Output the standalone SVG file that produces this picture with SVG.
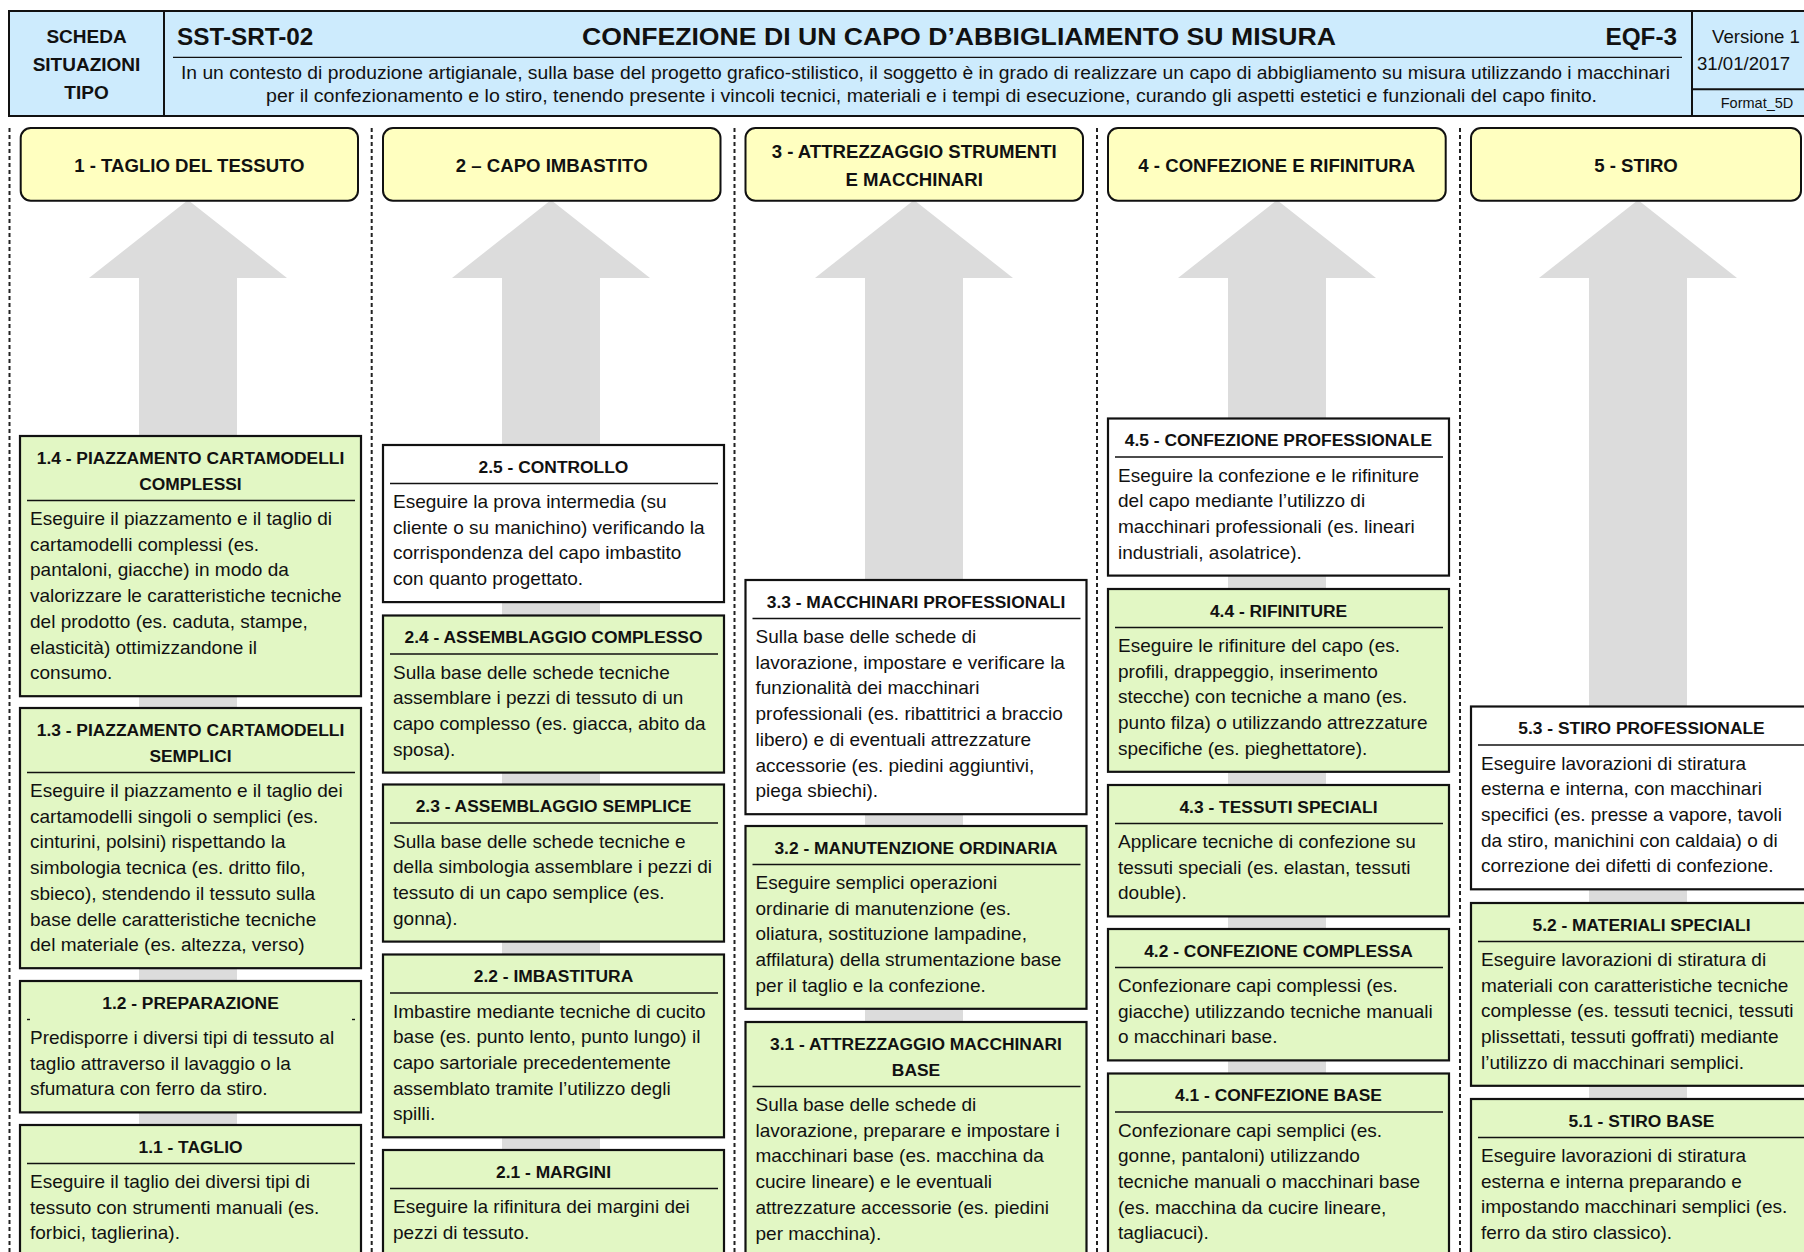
<svg xmlns="http://www.w3.org/2000/svg" width="1804" height="1252" viewBox="0 0 1804 1252">
<style>
.hdr{fill:#cdebfd;stroke:#111;stroke-width:2}
.hl{stroke:#111;stroke-width:2;fill:none}
.thin{stroke:#111;stroke-width:1.3;fill:none}
.yb{fill:#ffffc0;stroke:#111;stroke-width:2}
.g{fill:#e2f7c4;stroke:#111;stroke-width:2.2}
.w{fill:#ffffff;stroke:#111;stroke-width:2.2}
.sep{stroke:#111;stroke-width:1.4}
.arr{fill:#dcdcdc}
.dash{stroke:#222;stroke-width:2;stroke-dasharray:4 3;fill:none}
text{font-family:"Liberation Sans",Arial,sans-serif;fill:#111}
.hb{font-weight:bold;font-size:19px;text-anchor:middle}
.big{font-weight:bold;font-size:24.3px}
.desc{font-size:17.5px}
.ver{font-size:18.6px}
.fmt{font-size:14.5px;text-anchor:middle}
.ct{font-weight:bold;font-size:18.6px;text-anchor:middle}
.t{font-weight:bold;font-size:17.4px;text-anchor:middle}
.b{font-size:19px}
</style>

<g id="header">
<rect class="hdr" x="9" y="11" width="1815" height="105"/>
<line class="hl" x1="164" y1="11" x2="164" y2="116"/>
<line class="hl" x1="1692" y1="11" x2="1692" y2="116"/>
<line class="hl" x1="1692" y1="89.3" x2="1810" y2="89.3"/>
<line class="thin" x1="173" y1="57.3" x2="1682" y2="57.3"/>
<text class="hb" x="86.5" y="42.5">SCHEDA</text>
<text class="hb" x="86.5" y="70.5">SITUAZIONI</text>
<text class="hb" x="86.5" y="98.5">TIPO</text>
<text class="big" x="177" y="44.5">SST-SRT-02</text>
<text class="big" x="582" y="44.5" textLength="754" lengthAdjust="spacingAndGlyphs">CONFEZIONE DI UN CAPO D’ABBIGLIAMENTO SU MISURA</text>
<text class="big" x="1677" y="44.5" text-anchor="end">EQF-3</text>
<text class="desc" x="181" y="78.5" textLength="1489" lengthAdjust="spacingAndGlyphs">In un contesto di produzione artigianale, sulla base del progetto grafico-stilistico, il soggetto è in grado di realizzare un capo di abbigliamento su misura utilizzando i macchinari</text>
<text class="desc" x="266" y="102" textLength="1331" lengthAdjust="spacingAndGlyphs">per il confezionamento e lo stiro, tenendo presente i vincoli tecnici, materiali e i tempi di esecuzione, curando gli aspetti estetici e funzionali del capo finito.</text>
<text class="ver" x="1712" y="43">Versione 1</text>
<text class="ver" x="1697" y="70">31/01/2017</text>
<text class="fmt" x="1757" y="108">Format_5D</text>
</g>

<g id="separators">
<line class="dash" x1="9.5" y1="128" x2="9.5" y2="1252"/>
<line class="dash" x1="371.7" y1="128" x2="371.7" y2="1252"/>
<line class="dash" x1="734.5" y1="128" x2="734.5" y2="1252"/>
<line class="dash" x1="1097" y1="128" x2="1097" y2="1252"/>
<line class="dash" x1="1460" y1="128" x2="1460" y2="1252"/>
</g>

<g id="connectors">
<polygon class="arr" points="188,200 287,278 237,278 237,1260 139,1260 139,278 89,278"/>
<polygon class="arr" points="551,200 650,278 600,278 600,1260 502,1260 502,278 452,278"/>
<polygon class="arr" points="914,200 1013,278 963,278 963,1260 865,1260 865,278 815,278"/>
<polygon class="arr" points="1277,200 1376,278 1326,278 1326,1260 1228,1260 1228,278 1178,278"/>
<polygon class="arr" points="1638,200 1737,278 1687,278 1687,1260 1589,1260 1589,278 1539,278"/>
</g>

<g id="col1-head"><rect class="yb" x="20.7" y="128" width="337.3" height="72.7" rx="10"/><text class="ct" x="189.4" y="172">1 - TAGLIO DEL TESSUTO</text></g>
<g id="col2-head"><rect class="yb" x="383" y="128" width="337.5" height="72.7" rx="10"/><text class="ct" x="551.7" y="172">2 – CAPO IMBASTITO</text></g>
<g id="col3-head"><rect class="yb" x="745.5" y="128" width="337.5" height="72.7" rx="10"/><text class="ct" x="914.2" y="157.5">3 - ATTREZZAGGIO STRUMENTI</text><text class="ct" x="914.2" y="186.3">E MACCHINARI</text></g>
<g id="col4-head"><rect class="yb" x="1108" y="128" width="337.7" height="72.7" rx="10"/><text class="ct" x="1276.8" y="172">4 - CONFEZIONE E RIFINITURA</text></g>
<g id="col5-head"><rect class="yb" x="1471" y="128" width="330" height="72.7" rx="10"/><text class="ct" x="1636" y="172">5 - STIRO</text></g>

<!-- Column 1 -->
<g id="n1-4">
<rect class="g" x="20" y="436" width="341" height="260.2"/>
<text class="t" x="190.5" y="463.5">1.4 - PIAZZAMENTO CARTAMODELLI</text>
<text class="t" x="190.5" y="489.5">COMPLESSI</text>
<line class="sep" x1="27" y1="500.5" x2="355" y2="500.5"/>
<text class="b"><tspan x="30" y="525">Eseguire il piazzamento e il taglio di</tspan><tspan x="30" y="550.7">cartamodelli complessi (es.</tspan><tspan x="30" y="576.4">pantaloni, giacche) in modo da</tspan><tspan x="30" y="602.1">valorizzare le caratteristiche tecniche</tspan><tspan x="30" y="627.8">del prodotto (es. caduta, stampe,</tspan><tspan x="30" y="653.5">elasticità) ottimizzandone il</tspan><tspan x="30" y="679.2">consumo.</tspan></text>
</g>
<g id="n1-3">
<rect class="g" x="20" y="708" width="341" height="260.2"/>
<text class="t" x="190.5" y="735.5">1.3 - PIAZZAMENTO CARTAMODELLI</text>
<text class="t" x="190.5" y="761.5">SEMPLICI</text>
<line class="sep" x1="27" y1="772.5" x2="355" y2="772.5"/>
<text class="b"><tspan x="30" y="797">Eseguire il piazzamento e il taglio dei</tspan><tspan x="30" y="822.7">cartamodelli singoli o semplici (es.</tspan><tspan x="30" y="848.4">cinturini, polsini) rispettando la</tspan><tspan x="30" y="874.1">simbologia tecnica (es. dritto filo,</tspan><tspan x="30" y="899.8">sbieco), stendendo il tessuto sulla</tspan><tspan x="30" y="925.5">base delle caratteristiche tecniche</tspan><tspan x="30" y="951.2">del materiale (es. altezza, verso)</tspan></text>
</g>
<g id="n1-2">
<rect class="g" x="20" y="981" width="341" height="131.4"/>
<text class="t" x="190.5" y="1008.5">1.2 - PREPARAZIONE</text>
<line class="sep" x1="27" y1="1019.5" x2="30" y2="1019.5"/>
<line class="sep" x1="352" y1="1019.5" x2="355" y2="1019.5"/>
<text class="b"><tspan x="30" y="1044">Predisporre i diversi tipi di tessuto al</tspan><tspan x="30" y="1069.7">taglio attraverso il lavaggio o la</tspan><tspan x="30" y="1095.4">sfumatura con ferro da stiro.</tspan></text>
</g>
<g id="n1-1">
<rect class="g" x="20" y="1125" width="341" height="140"/>
<text class="t" x="190.5" y="1152.5">1.1 - TAGLIO</text>
<line class="sep" x1="27" y1="1163.5" x2="355" y2="1163.5"/>
<text class="b"><tspan x="30" y="1188">Eseguire il taglio dei diversi tipi di</tspan><tspan x="30" y="1213.7">tessuto con strumenti manuali (es.</tspan><tspan x="30" y="1239.4">forbici, taglierina).</tspan></text>
</g>

<!-- Column 2 -->
<g id="n2-5">
<rect class="w" x="383" y="445" width="341" height="157.1"/>
<text class="t" x="553.5" y="472.5">2.5 - CONTROLLO</text>
<line class="sep" x1="390" y1="483.5" x2="718" y2="483.5"/>
<text class="b"><tspan x="393" y="508">Eseguire la prova intermedia (su</tspan><tspan x="393" y="533.7">cliente o su manichino) verificando la</tspan><tspan x="393" y="559.4">corrispondenza del capo imbastito</tspan><tspan x="393" y="585.1">con quanto progettato.</tspan></text>
</g>
<g id="n2-4">
<rect class="g" x="383" y="615.5" width="341" height="157.1"/>
<text class="t" x="553.5" y="643">2.4 - ASSEMBLAGGIO COMPLESSO</text>
<line class="sep" x1="390" y1="654" x2="718" y2="654"/>
<text class="b"><tspan x="393" y="678.5">Sulla base delle schede tecniche</tspan><tspan x="393" y="704.2">assemblare i pezzi di tessuto di un</tspan><tspan x="393" y="729.9">capo complesso (es. giacca, abito da</tspan><tspan x="393" y="755.6">sposa).</tspan></text>
</g>
<g id="n2-3">
<rect class="g" x="383" y="784.5" width="341" height="157.1"/>
<text class="t" x="553.5" y="812">2.3 - ASSEMBLAGGIO SEMPLICE</text>
<line class="sep" x1="390" y1="823" x2="718" y2="823"/>
<text class="b"><tspan x="393" y="847.5">Sulla base delle schede tecniche e</tspan><tspan x="393" y="873.2">della simbologia assemblare i pezzi di</tspan><tspan x="393" y="898.9">tessuto di un capo semplice (es.</tspan><tspan x="393" y="924.6">gonna).</tspan></text>
</g>
<g id="n2-2">
<rect class="g" x="383" y="954.5" width="341" height="182.8"/>
<text class="t" x="553.5" y="982">2.2 - IMBASTITURA</text>
<line class="sep" x1="390" y1="993" x2="718" y2="993"/>
<text class="b"><tspan x="393" y="1017.5">Imbastire mediante tecniche di cucito</tspan><tspan x="393" y="1043.2">base (es. punto lento, punto lungo) il</tspan><tspan x="393" y="1068.9">capo sartoriale precedentemente</tspan><tspan x="393" y="1094.6">assemblato tramite l’utilizzo degli</tspan><tspan x="393" y="1120.3">spilli.</tspan></text>
</g>
<g id="n2-1">
<rect class="g" x="383" y="1150" width="341" height="115"/>
<text class="t" x="553.5" y="1177.5">2.1 - MARGINI</text>
<line class="sep" x1="390" y1="1188.5" x2="718" y2="1188.5"/>
<text class="b"><tspan x="393" y="1213">Eseguire la rifinitura dei margini dei</tspan><tspan x="393" y="1238.7">pezzi di tessuto.</tspan></text>
</g>

<!-- Column 3 -->
<g id="n3-3">
<rect class="w" x="745.5" y="580" width="341" height="234.2"/>
<text class="t" x="916" y="607.5">3.3 - MACCHINARI PROFESSIONALI</text>
<line class="sep" x1="752.5" y1="618.5" x2="1080.5" y2="618.5"/>
<text class="b"><tspan x="755.5" y="643">Sulla base delle schede di</tspan><tspan x="755.5" y="668.7">lavorazione, impostare e verificare la</tspan><tspan x="755.5" y="694.4">funzionalità dei macchinari</tspan><tspan x="755.5" y="720.1">professionali (es. ribattitrici a braccio</tspan><tspan x="755.5" y="745.8">libero) e di eventuali attrezzature</tspan><tspan x="755.5" y="771.5">accessorie (es. piedini aggiuntivi,</tspan><tspan x="755.5" y="797.2">piega sbiechi).</tspan></text>
</g>
<g id="n3-2">
<rect class="g" x="745.5" y="826" width="341" height="182.8"/>
<text class="t" x="916" y="853.5">3.2 - MANUTENZIONE ORDINARIA</text>
<line class="sep" x1="752.5" y1="864.5" x2="1080.5" y2="864.5"/>
<text class="b"><tspan x="755.5" y="889">Eseguire semplici operazioni</tspan><tspan x="755.5" y="914.7">ordinarie di manutenzione (es.</tspan><tspan x="755.5" y="940.4">oliatura, sostituzione lampadine,</tspan><tspan x="755.5" y="966.1">affilatura) della strumentazione base</tspan><tspan x="755.5" y="991.8">per il taglio e la confezione.</tspan></text>
</g>
<g id="n3-1">
<rect class="g" x="745.5" y="1022" width="341" height="243"/>
<text class="t" x="916" y="1049.5">3.1 - ATTREZZAGGIO MACCHINARI</text>
<text class="t" x="916" y="1075.5">BASE</text>
<line class="sep" x1="752.5" y1="1086.5" x2="1080.5" y2="1086.5"/>
<text class="b"><tspan x="755.5" y="1111">Sulla base delle schede di</tspan><tspan x="755.5" y="1136.7">lavorazione, preparare e impostare i</tspan><tspan x="755.5" y="1162.4">macchinari base (es. macchina da</tspan><tspan x="755.5" y="1188.1">cucire lineare) e le eventuali</tspan><tspan x="755.5" y="1213.8">attrezzature accessorie (es. piedini</tspan><tspan x="755.5" y="1239.5">per macchina).</tspan></text>
</g>

<!-- Column 4 -->
<g id="n4-5">
<rect class="w" x="1108" y="418.5" width="341" height="157.1"/>
<text class="t" x="1278.5" y="446">4.5 - CONFEZIONE PROFESSIONALE</text>
<line class="sep" x1="1115" y1="457" x2="1443" y2="457"/>
<text class="b"><tspan x="1118" y="481.5">Eseguire la confezione e le rifiniture</tspan><tspan x="1118" y="507.2">del capo mediante l’utilizzo di</tspan><tspan x="1118" y="532.9">macchinari professionali (es. lineari</tspan><tspan x="1118" y="558.6">industriali, asolatrice).</tspan></text>
</g>
<g id="n4-4">
<rect class="g" x="1108" y="589" width="341" height="182.8"/>
<text class="t" x="1278.5" y="616.5">4.4 - RIFINITURE</text>
<line class="sep" x1="1115" y1="627.5" x2="1443" y2="627.5"/>
<text class="b"><tspan x="1118" y="652">Eseguire le rifiniture del capo (es.</tspan><tspan x="1118" y="677.7">profili, drappeggio, inserimento</tspan><tspan x="1118" y="703.4">stecche) con tecniche a mano (es.</tspan><tspan x="1118" y="729.1">punto filza) o utilizzando attrezzature</tspan><tspan x="1118" y="754.8">specifiche (es. pieghettatore).</tspan></text>
</g>
<g id="n4-3">
<rect class="g" x="1108" y="785" width="341" height="131.4"/>
<text class="t" x="1278.5" y="812.5">4.3 - TESSUTI SPECIALI</text>
<line class="sep" x1="1115" y1="823.5" x2="1443" y2="823.5"/>
<text class="b"><tspan x="1118" y="848">Applicare tecniche di confezione su</tspan><tspan x="1118" y="873.7">tessuti speciali (es. elastan, tessuti</tspan><tspan x="1118" y="899.4">double).</tspan></text>
</g>
<g id="n4-2">
<rect class="g" x="1108" y="929" width="341" height="131.4"/>
<text class="t" x="1278.5" y="956.5">4.2 - CONFEZIONE COMPLESSA</text>
<line class="sep" x1="1115" y1="967.5" x2="1443" y2="967.5"/>
<text class="b"><tspan x="1118" y="992">Confezionare capi complessi (es.</tspan><tspan x="1118" y="1017.7">giacche) utilizzando tecniche manuali</tspan><tspan x="1118" y="1043.4">o macchinari base.</tspan></text>
</g>
<g id="n4-1">
<rect class="g" x="1108" y="1073.5" width="341" height="190"/>
<text class="t" x="1278.5" y="1101">4.1 - CONFEZIONE BASE</text>
<line class="sep" x1="1115" y1="1112" x2="1443" y2="1112"/>
<text class="b"><tspan x="1118" y="1136.5">Confezionare capi semplici (es.</tspan><tspan x="1118" y="1162.2">gonne, pantaloni) utilizzando</tspan><tspan x="1118" y="1187.9">tecniche manuali o macchinari base</tspan><tspan x="1118" y="1213.6">(es. macchina da cucire lineare,</tspan><tspan x="1118" y="1239.3">tagliacuci).</tspan></text>
</g>

<!-- Column 5 -->
<g id="n5-3">
<rect class="w" x="1471" y="706.5" width="341" height="182.8"/>
<text class="t" x="1641.5" y="734">5.3 - STIRO PROFESSIONALE</text>
<line class="sep" x1="1478" y1="745" x2="1806" y2="745"/>
<text class="b"><tspan x="1481" y="769.5">Eseguire lavorazioni di stiratura</tspan><tspan x="1481" y="795.2">esterna e interna, con macchinari</tspan><tspan x="1481" y="820.9">specifici (es. presse a vapore, tavoli</tspan><tspan x="1481" y="846.6">da stiro, manichini con caldaia) o di</tspan><tspan x="1481" y="872.3">correzione dei difetti di confezione.</tspan></text>
</g>
<g id="n5-2">
<rect class="g" x="1471" y="903" width="341" height="182.8"/>
<text class="t" x="1641.5" y="930.5">5.2 - MATERIALI SPECIALI</text>
<line class="sep" x1="1478" y1="941.5" x2="1806" y2="941.5"/>
<text class="b"><tspan x="1481" y="966">Eseguire lavorazioni di stiratura di</tspan><tspan x="1481" y="991.7">materiali con caratteristiche tecniche</tspan><tspan x="1481" y="1017.4">complesse (es. tessuti tecnici, tessuti</tspan><tspan x="1481" y="1043.1">plissettati, tessuti goffrati) mediante</tspan><tspan x="1481" y="1068.8">l’utilizzo di macchinari semplici.</tspan></text>
</g>
<g id="n5-1">
<rect class="g" x="1471" y="1099" width="341" height="165"/>
<text class="t" x="1641.5" y="1126.5">5.1 - STIRO BASE</text>
<line class="sep" x1="1478" y1="1137.5" x2="1806" y2="1137.5"/>
<text class="b"><tspan x="1481" y="1162">Eseguire lavorazioni di stiratura</tspan><tspan x="1481" y="1187.7">esterna e interna preparando e</tspan><tspan x="1481" y="1213.4">impostando macchinari semplici (es.</tspan><tspan x="1481" y="1239.1">ferro da stiro classico).</tspan></text>
</g>
</svg>
